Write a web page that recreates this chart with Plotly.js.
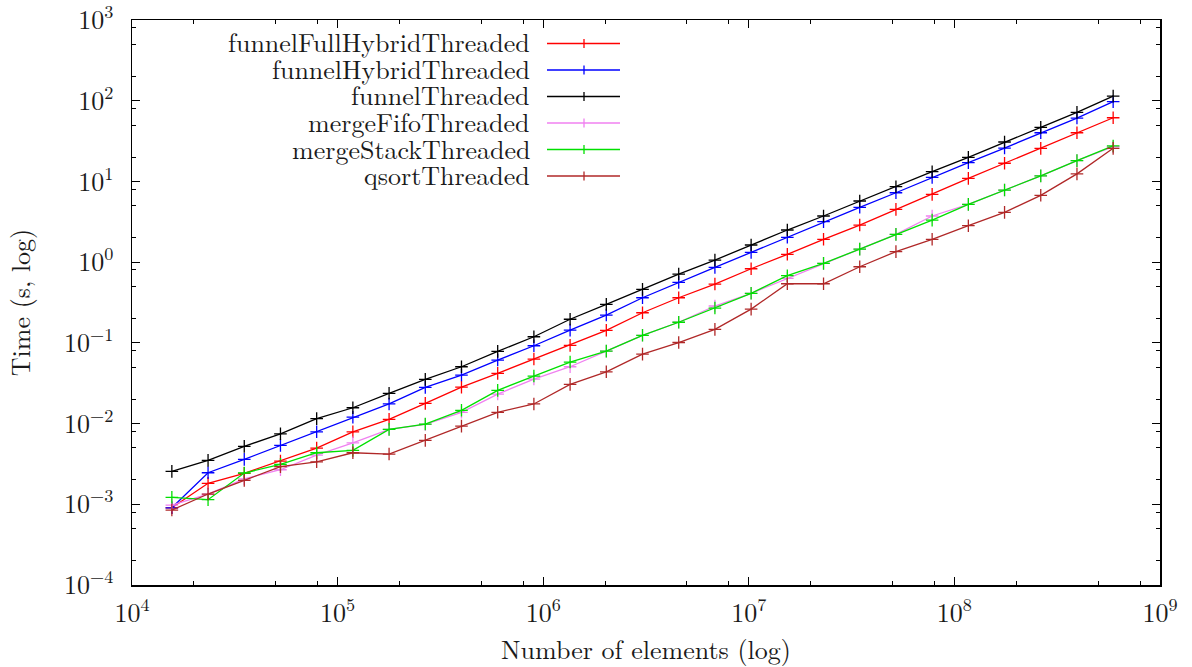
<!DOCTYPE html>
<html><head><meta charset="utf-8">
<script src="https://cdn.plot.ly/plotly-3.0.1.min.js"></script>
<style>html,body{margin:0;padding:0;background:#fff}#chart{width:1192px;height:667px}</style>
</head><body><div id="chart"></div>
<script>
// Number of elements (x)
const xValues = [15625, 23438, 35156, 52734, 79102, 118652, 177979, 266968, 400452, 600677,
  901016, 1351524, 2027286, 3040929, 4561394, 6842091, 10263136, 15394704, 23092056,
  34638084, 51957126, 77935689, 116903533, 175355300, 263032950, 394549425, 591824138];

const seriesNames = ['funnelFullHybridThreaded', 'funnelHybridThreaded', 'funnelThreaded',
  'mergeFifoThreaded', 'mergeStackThreaded', 'qsortThreaded'];

const funnelFullHybridThreaded = [9.05e-4, 1.82e-3, 2.42e-3, 3.43e-3, 4.97e-3, 7.91e-3, 0.0113, 0.0178, 0.0283,
  0.0419, 0.0630, 0.0931, 0.143, 0.236, 0.362, 0.535, 0.828, 1.25, 1.92, 2.88, 4.51, 6.92, 10.9, 16.8, 25.7, 40.1, 61.5];
const funnelHybridThreaded = [9.05e-4, 2.46e-3, 3.60e-3, 5.37e-3, 7.91e-3, 0.0120, 0.0175, 0.0281, 0.0399,
  0.0612, 0.0921, 0.144, 0.221, 0.362, 0.562, 0.862, 1.32, 2.03, 3.17, 4.78, 7.24, 11.2, 17.1, 25.9, 40.1, 61.0, 97.2];
const funnelThreaded = [2.56e-3, 3.50e-3, 5.22e-3, 7.47e-3, 0.0115, 0.0157, 0.0237, 0.0353, 0.0506,
  0.0785, 0.119, 0.196, 0.300, 0.460, 0.712, 1.06, 1.63, 2.50, 3.73, 5.72, 8.60, 13.2, 19.9, 30.8, 46.8, 71.8, 114];
const mergeFifoThreaded = [9.77e-4, 1.34e-3, 2.07e-3, 2.68e-3, 4.07e-3, 5.78e-3, 8.48e-3, 9.77e-3, 0.0138,
  0.0232, 0.0356, 0.0506, 0.0791, 0.124, 0.180, 0.286, 0.411, 0.630, 0.966, 1.45, 2.21, 3.73, 5.20, 7.82, 11.7, 18.1, 26.9];
const mergeStackThreaded = [1.22e-3, 1.14e-3, 2.44e-3, 3.12e-3, 4.35e-3, 4.65e-3, 8.48e-3, 9.86e-3, 0.0146,
  0.0258, 0.0388, 0.0578, 0.0791, 0.124, 0.180, 0.270, 0.411, 0.679, 0.966, 1.45, 2.21, 3.32, 5.20, 7.82, 11.7, 18.1, 27.5];
const qsortThreaded = [8.48e-4, 1.34e-3, 1.98e-3, 2.92e-3, 3.36e-3, 4.35e-3, 4.19e-3, 6.19e-3, 9.31e-3,
  0.0138, 0.0175, 0.0306, 0.0438, 0.0726, 0.101, 0.147, 0.262, 0.540, 0.540, 0.877, 1.35, 1.92, 2.83, 4.14, 6.73, 12.4, 25.7];

const seriesValues = [funnelFullHybridThreaded, funnelHybridThreaded, funnelThreaded,
  mergeFifoThreaded, mergeStackThreaded, qsortThreaded];
const seriesColors = ['#ff0000', '#0000ff', '#000000', '#f080f0', '#00e000', '#b02828'];

const xTickVals = [1e4, 1e5, 1e6, 1e7, 1e8, 1e9];
const xTickText = ['10<sup>4</sup>', '10<sup>5</sup>', '10<sup>6</sup>', '10<sup>7</sup>', '10<sup>8</sup>', '10<sup>9</sup>'];
const xMinorVals = [2e4, 5e4, 8e4, 2e5, 5e5, 8e5, 2e6, 5e6, 8e6, 2e7, 5e7, 8e7, 2e8, 5e8, 8e8];
const yTickVals = [1e-4, 1e-3, 1e-2, 1e-1, 1, 10, 100, 1000];
const yTickText = ['10<sup>\u22124</sup>', '10<sup>\u22123</sup>', '10<sup>\u22122</sup>', '10<sup>\u22121</sup>',
  '10<sup>0</sup>', '10<sup>1</sup>', '10<sup>2</sup>', '10<sup>3</sup>'];
const yMinorVals = [2e-4, 5e-4, 8e-4, 2e-3, 5e-3, 8e-3, 2e-2, 5e-2, 8e-2, 0.2, 0.5, 0.8, 2, 5, 8, 20, 50, 80, 200, 500, 800];

const FONT = 'Latin Modern Roman';
const TXT = '#1a1a1a';
const FS = 26;

const traces = seriesNames.map((name, i) => ({
  type: 'scatter', mode: 'lines+markers', name: name,
  x: xValues, y: seriesValues[i],
  line: {color: seriesColors[i], width: 1.3},
  marker: {symbol: 'cross-thin-open', size: 9, color: seriesColors[i], line: {color: seriesColors[i], width: 1.3}},
  showlegend: false
}));

// Legend drawn gnuplot-style: right-aligned text, sample line to the right
const W = 1192, H = 667, ML = 132, MR = 32, MT = 20, MB = 82;
const PW = W - ML - MR, PH = H - MT - MB;
const px2x = p => (p - ML) / PW;
const px2y = p => (H - MB - p) / PH;
const legTop = 43.5, legStep = 26.5;
const annotations = [];
const shapes = [];
seriesNames.forEach((name, i) => {
  const yp = legTop + i * legStep;
  annotations.push({
    xref: 'paper', yref: 'paper', x: px2x(531), y: px2y(yp - 1.5), xanchor: 'right', yanchor: 'middle',
    text: name, showarrow: false, borderpad: 0, font: {family: FONT, size: FS, color: TXT}
  });
  shapes.push({type: 'line', xref: 'paper', yref: 'paper', x0: px2x(547), x1: px2x(620), y0: px2y(yp), y1: px2y(yp),
    line: {color: seriesColors[i], width: 1.3}});
  shapes.push({type: 'line', xref: 'paper', yref: 'paper', x0: px2x(584), x1: px2x(584), y0: px2y(yp - 4.5), y1: px2y(yp + 4.5),
    line: {color: seriesColors[i], width: 1.3}});
});

const axisCommon = {
  type: 'log', tickmode: 'array', ticks: 'inside', ticklen: 8, tickwidth: 1, tickcolor: '#000',
  showline: true, linecolor: '#000', linewidth: 1.5, mirror: 'allticks', showgrid: false, zeroline: false,
  ticklabeloverflow: 'allow',
  tickfont: {family: FONT, size: FS, color: TXT}
};

const layout = {
  width: W, height: H, autosize: false,
  margin: {l: ML, r: MR, t: MT, b: MB, pad: 0},
  paper_bgcolor: '#fff', plot_bgcolor: '#fff',
  font: {family: FONT, size: FS, color: TXT},
  showlegend: false,
  xaxis: Object.assign({}, axisCommon, {
    range: [4, 9], tickvals: xTickVals, ticktext: xTickText, ticklabelstandoff: 4,
    minor: {tickmode: 'array', tickvals: xMinorVals, ticks: 'inside', ticklen: 4, tickwidth: 1, tickcolor: '#000', showgrid: false},
    title: {text: 'Number of elements (log)', font: {family: FONT, size: FS, color: TXT}, standoff: 6}
  }),
  yaxis: Object.assign({}, axisCommon, {
    range: [-4, 3], tickvals: yTickVals, ticktext: yTickText, ticklabelstandoff: 12,
    minor: {tickmode: 'array', tickvals: yMinorVals, ticks: 'inside', ticklen: 4, tickwidth: 1, tickcolor: '#000', showgrid: false},
    title: {text: 'Time (s, log)', font: {family: FONT, size: FS, color: TXT}, standoff: 26}
  }),
  annotations: annotations,
  shapes: shapes
};

Plotly.newPlot('chart', traces, layout, {displayModeBar: false, staticPlot: true});
</script>
</body></html>
